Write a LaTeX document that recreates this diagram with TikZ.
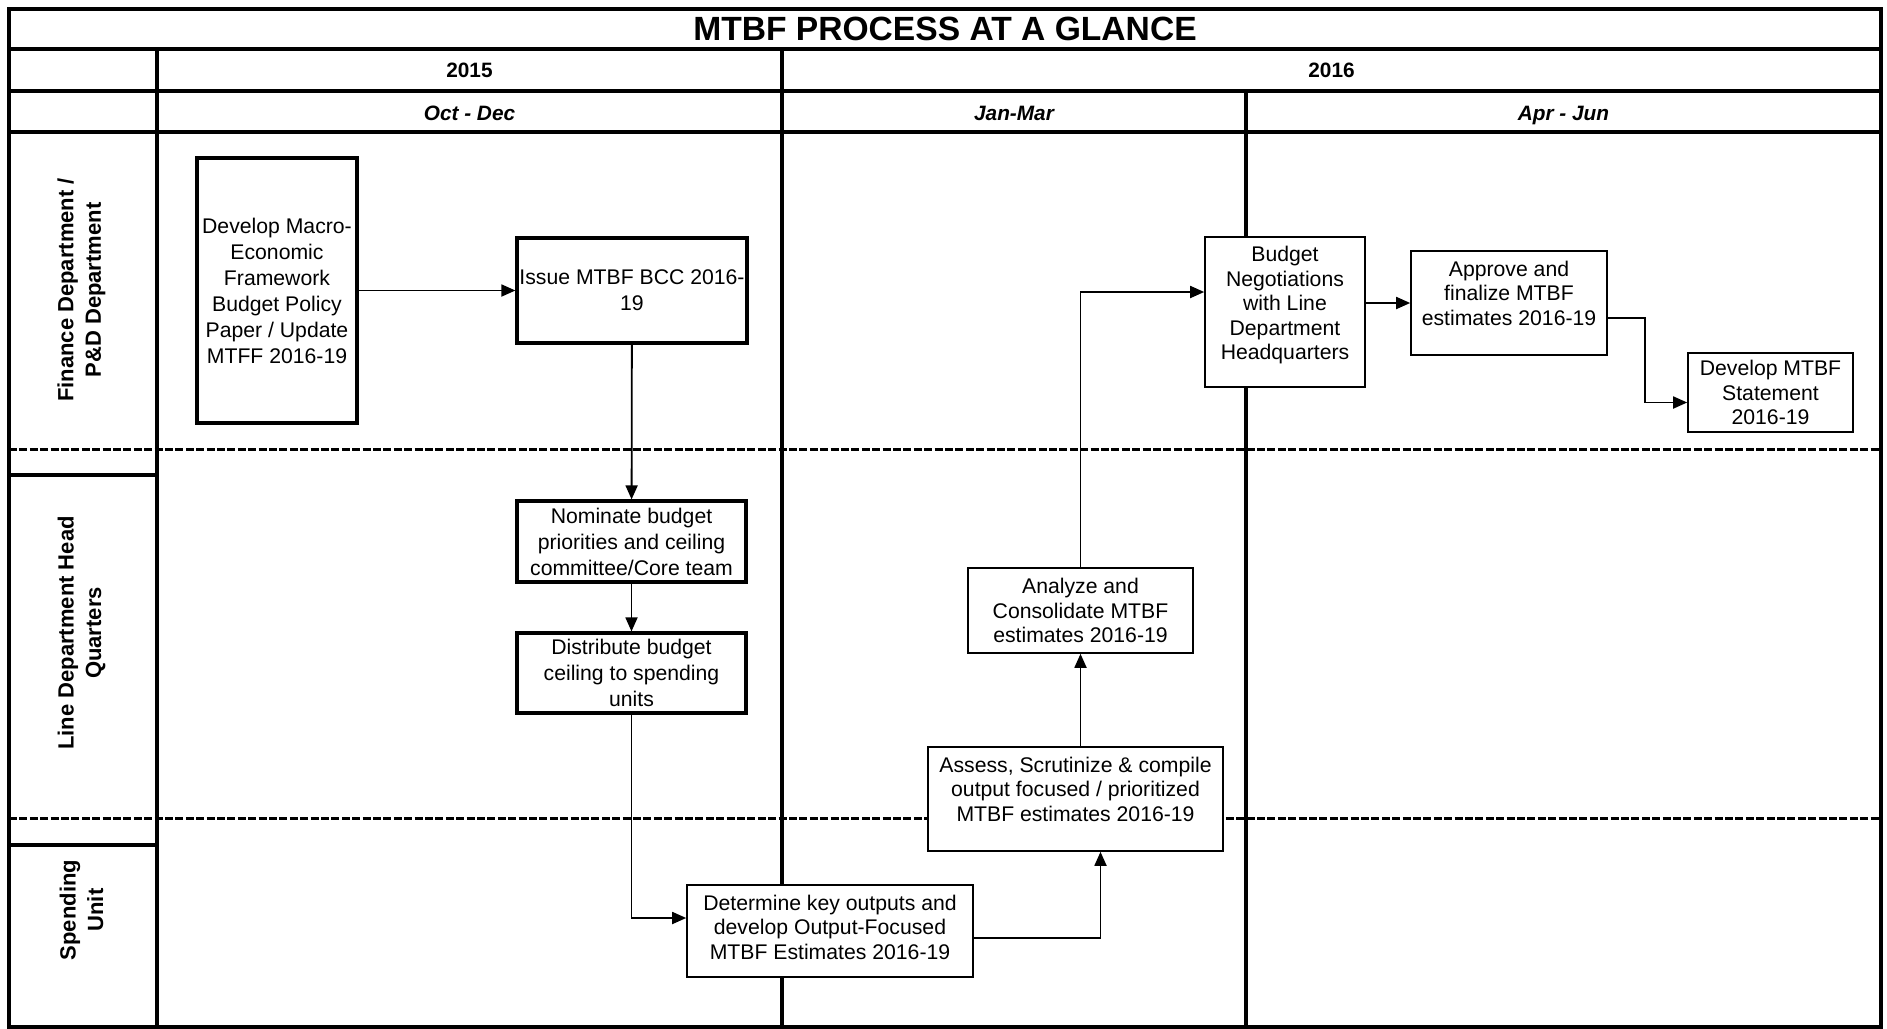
\documentclass[tikz,border=0pt]{standalone}
\usepackage{fontspec}
\setmainfont{Liberation Sans}
\usetikzlibrary{arrows.meta}
\newcommand{\dropgap}[1]{\rule[-#1]{0pt}{#1}}
\tikzset{
	procbox/.style={draw,fill=white,line width=0.8pt,align=center,inner sep=1pt,font=\fontsize{10.6}{12.3}\selectfont},
	procboxthick/.style={procbox,line width=1.6pt,font=\fontsize{10.6}{13}\selectfont},
	flow/.style={line width=0.9pt,-{Triangle[length=7pt,width=6pt]}},
	gridline/.style={line width=1.6pt},
	lanesep/.style={line width=1.5pt,dash pattern=on 4pt off 1.2pt},
	lanelabel/.style={rotate=90,align=center,font=\fontsize{11}{13.8}\selectfont\bfseries},
	yearhead/.style={font=\fontsize{10.4}{12}\selectfont\bfseries},
	quarterhead/.style={text depth=0pt,font=\fontsize{10.4}{12}\selectfont\bfseries\itshape}
}
\begin{document}
\begin{tikzpicture}[x=0.5pt,y=-0.5pt]
		\useasboundingbox (0,0) rectangle (1887,1029);
		\draw[gridline] (9,49) -- (1881,49);
		\draw[gridline] (9,91) -- (1881,91);
		\draw[gridline] (9,132) -- (1881,132);
		\draw[gridline] (157,49) -- (157,1027);
		\draw[gridline] (782,49) -- (782,1027);
		\draw[gridline] (1246,91) -- (1246,1027);
		\draw[gridline] (9,475) -- (157,475);
		\draw[gridline] (9,845) -- (157,845);
		\draw[lanesep] (9,449) -- (1881,449);
		\draw[lanesep] (9,818) -- (1881,818);
		\draw[line width=2.2pt] (9,9) rectangle (1881,1027);
		\node[font=\fontsize{16.8}{20}\selectfont\bfseries] (title) at (945,29) {MTBF PROCESS AT A GLANCE};
		\node[yearhead] (y15) at (469.5,70) {2015};
		\node[yearhead] (y16) at (1331.5,70) {2016};
		\node[quarterhead] (octdec) at (469.5,113) {Oct - Dec};
		\node[quarterhead] (janmar) at (1014,113) {Jan-Mar};
		\node[quarterhead] (aprjun) at (1563.5,113) {Apr - Jun};
		\node[lanelabel] (finance) at (81.5,290) {Finance Department /\\P\&D Department};
		\node[lanelabel] (linehq) at (81.5,633) {Line Department Head\\Quarters};
		\node[lanelabel] (spending) at (81.5,910) {Spending\\Unit};
		\node[procboxthick,minimum width=80pt,minimum height=132.5pt] (dev) at (277,290.5) {Develop Macro-\\Economic\\Framework\\Budget Policy\\Paper / Update\\MTFF 2016-19};
		\node[procboxthick,minimum width=115pt,minimum height=52.5pt] (issue) at (632,290.5) {Issue MTBF BCC 2016-\\19};
		\node[procboxthick,minimum width=114.5pt,minimum height=40.5pt] (nom) at (631.5,541.5) {Nominate budget\\priorities and ceiling\\committee/Core team};
		\node[procboxthick,minimum width=114.5pt,minimum height=40pt] (dist) at (631.5,673) {Distribute budget\\ceiling to spending\\units};
		\node[procbox,minimum width=143pt,minimum height=46pt] (det) at (830,931) {Determine key outputs and\\develop Output-Focused\\MTBF Estimates 2016-19\dropgap{4pt}};
		\node[procbox,minimum width=147.5pt,minimum height=52pt] (ass) at (1075.5,799) {Assess, Scrutinize \& compile\\output focused / prioritized\\MTBF estimates 2016-19\dropgap{10pt}};
		\node[procbox,minimum width=112.5pt,minimum height=42.5pt] (ana) at (1080.5,610.5) {Analyze and\\Consolidate MTBF\\estimates 2016-19};
		\node[procbox,minimum width=80pt,minimum height=75pt] (bud) at (1285,312) {Budget\\Negotiations\\with Line\\Department\\Headquarters\dropgap{9pt}};
		\node[procbox,minimum width=98pt,minimum height=52pt] (app) at (1509,303) {Approve and\\finalize MTBF\\estimates 2016-19\dropgap{10pt}};
		\node[procbox,minimum width=82.5pt,minimum height=39.5pt] (stmt) at (1770.5,392.5) {Develop MTBF\\Statement\\2016-19};
		\draw[flow] (dev) -- (issue);
		\draw[flow] (issue) -- (nom);
		\draw[flow] (nom) -- (dist);
		\draw[flow] (dist.south) |- ([yshift=6.5pt]det.west);
		\draw[flow] ([yshift=-3.5pt]det.east) -| ([xshift=12.5pt]ass.south);
		\draw[flow] (ana.south |- ass.north) -- (ana.south);
		\draw[flow] (ana.north) |- ([yshift=10pt]bud.west);
		\draw[flow] (bud.east |- app.west) -- (app.west);
		\draw[flow] ([yshift=-7.5pt]app.east) -- ++(37,0) |- ([yshift=-5pt]stmt.west);
\end{tikzpicture}
\end{document}
